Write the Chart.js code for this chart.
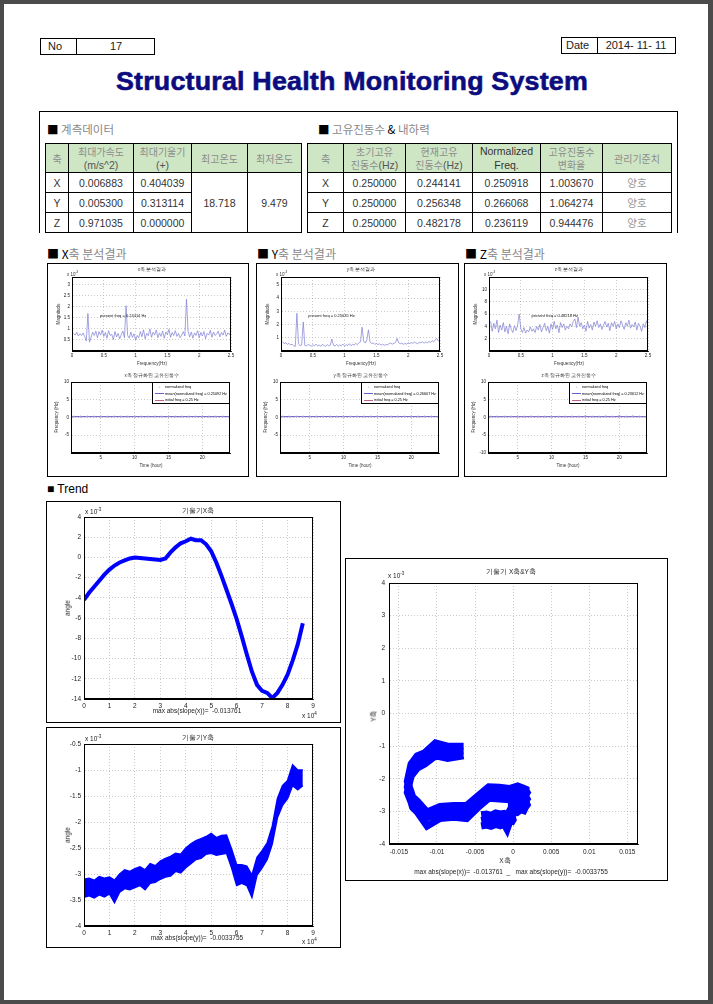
<!DOCTYPE html>
<html><head><meta charset="utf-8">
<script src="https://cdn.jsdelivr.net/npm/chart.js@4.4.1/dist/chart.umd.min.js"></script>
<style>
html,body{margin:0;padding:0;}
body{width:713px;height:1004px;background:#4b4b4b;position:relative;overflow:hidden;font-family:'Liberation Sans',Arial,sans-serif;}
#page{position:absolute;left:4px;top:4px;width:704px;height:996px;background:#fff;}
.abs{position:absolute;white-space:nowrap;line-height:1;}
.kr{font-family:'Noto Sans CJK KR','Liberation Sans',sans-serif;}
.box{position:absolute;border:1px solid #000;box-sizing:border-box;}
table.t{position:absolute;border-collapse:collapse;table-layout:fixed;font-size:10.5px;color:#333;}
table.t td{border:1px solid #000;text-align:center;padding:0;overflow:hidden;white-space:nowrap;}
table.t tr.h td{background:#cfe6c5;color:#8c8c8c;font-size:10px;line-height:13px;font-family:'Noto Sans CJK KR','Liberation Sans',sans-serif;}
table.t tr.h td .en{font-family:'Liberation Sans',Arial,sans-serif;color:#555;font-size:10.5px;}
table.t tr.d td{height:19px;}
.sec{position:absolute;font-size:11.5px;color:#888;white-space:nowrap;line-height:1;transform:translateY(-50%);}
.sec b{color:#000;font-weight:normal;}
canvas{position:absolute;}
.leg{position:absolute;border:0.6px solid #000;background:#fff;box-sizing:border-box;font-size:3.8px;line-height:6.5px;padding:1px 1px;white-space:nowrap;overflow:hidden;}
</style>
</head><body>
<div id="page"></div>

<!-- header boxes -->
<div class="box" style="left:40px;top:38px;width:115px;height:17px;"></div>
<div class="abs" style="left:76px;top:38px;width:1px;height:17px;background:#000;"></div>
<div class="abs" style="left:48px;top:41px;font-size:11px;color:#222;">No</div>
<div class="abs" style="left:116px;top:41px;font-size:11px;color:#222;transform:translateX(-50%);">17</div>
<div class="box" style="left:561px;top:37px;width:115px;height:17px;"></div>
<div class="abs" style="left:597px;top:37px;width:1px;height:17px;background:#000;"></div>
<div class="abs" style="left:566px;top:40px;font-size:11px;color:#222;">Date</div>
<div class="abs" style="left:636px;top:40px;font-size:11px;color:#222;transform:translateX(-50%);">2014- 11- 11</div>

<div id="title" class="abs" style="left:116px;top:68px;font-size:26px;font-weight:bold;color:#0c0c7e;transform-origin:0 0;letter-spacing:0.2px;-webkit-text-stroke:0.6px #0c0c7e;">Structural Health Monitoring System</div>

<!-- top box -->
<div class="abs" style="left:39px;top:111px;width:639px;height:1px;background:#000;"></div>
<div class="abs" style="left:39px;top:111px;width:1px;height:122px;background:#000;"></div>
<div class="abs" style="left:677px;top:111px;width:1px;height:122px;background:#000;"></div>

<div class="sec kr" style="left:47px;top:130px;"><b>■</b> 계측데이터</div>
<div class="sec kr" style="left:318px;top:130px;"><b>■</b> 고유진동수 <b>&amp;</b> 내하력</div>

<table class="t" id="tblA" style="left:45px;top:143px;width:256px;">
<colgroup><col style="width:23px"><col style="width:65px"><col style="width:58px"><col style="width:56px"><col style="width:54px"></colgroup>
<tr class="h" style="height:29px;"><td>축</td><td>최대가속도<br><span class="en">(m/s^2)</span></td><td>최대기울기<br><span class="en">(+)</span></td><td>최고온도</td><td>최저온도</td></tr>
</table>
<table class="t" id="tblB" style="left:307px;top:143px;width:364px;">
<colgroup><col style="width:36px"><col style="width:62px"><col style="width:67px"><col style="width:68px"><col style="width:62px"><col style="width:69px"></colgroup>
<tr class="h" style="height:29px;"><td>축</td><td>초기고유<br>진동수<span class="en">(Hz)</span></td><td>현재고유<br>진동수<span class="en">(Hz)</span></td><td><span class="en" style="color:#333">Normalized<br>Freq.</span></td><td>고유진동수<br>변화율</td><td>관리기준치</td></tr>
</table>

<div class="sec kr" style="left:47px;top:254px;font-size:12px;"><b>■ X</b>축 분석결과</div>
<div class="sec kr" style="left:257px;top:254px;font-size:12px;"><b>■ Y</b>축 분석결과</div>
<div class="sec kr" style="left:465px;top:254px;font-size:12px;"><b>■ Z</b>축 분석결과</div>
<div class="sec" style="left:47px;top:489px;font-size:12px;color:#000;">■ Trend</div>

<div class="box" style="left:47px;top:263px;width:202px;height:214px;"></div>
<div class="box" style="left:256px;top:263px;width:203px;height:214px;"></div>
<div class="box" style="left:464px;top:263px;width:203px;height:214px;"></div>

<div class="box" style="left:46px;top:501px;width:295px;height:222px;"></div>
<div class="box" style="left:46px;top:727px;width:295px;height:221px;"></div>
<div class="box" style="left:345px;top:558px;width:323px;height:323px;"></div>

<script>
// ---------------- DATA ----------------
const axesNames = ['X', 'Y', 'Z'];
const maxAccel = ['0.006883', '0.005300', '0.971035'];
const maxTilt = ['0.404039', '0.313114', '0.000000'];
const maxTemp = '18.718';
const minTemp = '9.479';
const initNatFreq = ['0.250000', '0.250000', '0.250000'];
const curNatFreq = ['0.244141', '0.256348', '0.482178'];
const normFreqTbl = ['0.250918', '0.266068', '0.236119'];
const changeRate = ['1.003670', '1.064274', '0.944476'];
const status = ['양호', '양호', '양호'];

const freq = [0.025,0.05,0.075,0.1,0.125,0.15,0.175,0.2,0.225,0.25,
  0.275,0.3,0.325,0.35,0.375,0.4,0.425,0.45,0.475,0.5,
  0.525,0.55,0.575,0.6,0.625,0.65,0.675,0.7,0.725,0.75,
  0.775,0.8,0.825,0.85,0.875,0.9,0.925,0.95,0.975,1.0,
  1.025,1.05,1.075,1.1,1.125,1.15,1.175,1.2,1.225,1.25,
  1.275,1.3,1.325,1.35,1.375,1.4,1.425,1.45,1.475,1.5,
  1.525,1.55,1.575,1.6,1.625,1.65,1.675,1.7,1.725,1.75,
  1.775,1.8,1.825,1.85,1.875,1.9,1.925,1.95,1.975,2.0,
  2.025,2.05,2.075,2.1,2.125,2.15,2.175,2.2,2.225,2.25,
  2.275,2.3,2.325,2.35,2.375,2.4,2.425,2.45,2.475,2.5];
const specX = [0.80,0.72,0.85,0.68,0.78,0.70,0.82,0.65,0.45,1.70,
  0.40,0.62,0.85,0.70,0.90,0.60,0.88,0.72,0.95,0.66,
  0.84,0.58,0.92,0.70,0.76,0.52,0.88,0.64,0.80,0.55,
  0.74,0.90,0.60,2.05,0.70,0.58,0.86,0.62,0.78,0.50,
  0.70,0.60,0.88,0.65,0.96,0.55,0.80,0.70,1.00,0.62,
  0.85,0.72,0.95,0.60,0.82,0.66,0.90,0.58,0.86,0.74,
  0.98,0.62,0.84,0.70,0.92,0.66,0.80,0.60,0.72,0.88,
  0.68,2.35,0.90,0.64,0.86,0.58,0.82,0.70,0.92,0.60,
  0.84,0.68,0.88,0.56,0.80,0.72,0.94,0.62,0.86,0.70,
  0.78,0.90,0.64,0.84,0.72,0.95,0.66,0.82,0.74,0.88];
const specY = [0.70,0.55,0.62,0.50,0.58,0.45,0.52,0.40,0.35,2.85,
  0.55,0.40,0.45,2.20,0.42,0.38,0.50,0.44,0.36,0.48,
  0.40,0.52,0.38,0.46,0.34,0.50,0.42,0.36,0.48,0.40,
  0.45,0.90,0.42,0.38,0.50,0.36,0.46,0.40,0.52,0.38,
  0.48,0.42,0.55,0.40,0.50,0.45,0.58,0.48,0.62,0.70,
  1.80,0.75,0.60,0.85,1.60,0.70,0.55,0.62,0.50,0.58,
  0.48,0.55,0.45,0.52,0.42,0.50,0.46,0.55,0.60,0.52,
  0.58,0.65,0.95,0.62,0.55,0.60,0.50,0.58,0.52,0.62,
  0.56,0.64,0.58,0.68,0.60,0.55,0.66,0.62,0.70,0.58,
  0.68,0.62,0.72,0.65,0.78,0.70,0.85,0.95,0.75,0.80];
const specZ = [4.8,3.2,4.5,3.6,5.0,3.0,4.2,3.4,4.6,3.1,
  4.0,2.8,4.4,3.5,3.0,4.1,3.3,4.2,6.0,3.6,
  3.0,3.8,2.9,3.4,3.1,3.9,3.2,3.6,3.0,4.0,
  3.4,4.3,3.1,3.8,4.5,3.3,4.0,2.9,4.4,3.5,
  4.8,3.6,4.2,3.0,4.6,3.8,4.4,3.4,4.0,3.6,
  4.4,3.9,4.8,5.2,3.8,5.5,4.0,4.6,3.6,4.2,
  3.2,4.8,3.7,4.3,3.4,4.7,4.0,4.9,3.8,4.4,
  3.5,4.2,4.8,3.9,4.5,3.3,4.6,4.0,4.8,3.6,
  4.4,3.8,4.9,4.2,3.5,4.6,4.0,5.0,3.7,4.3,
  3.9,4.7,3.4,4.5,4.0,3.2,4.4,3.8,4.9,4.2];
const presentFreq = ['0.24414', '0.25635', '0.48218'];

const hours = [1,2,3,4,5,6,7,8,9,10,11,12,13,14,15,16,17,18,19,20,21,22,23,24];
const normX = [0.25,0.24,0.26,0.25,0.25,0.24,0.26,0.25,0.25,0.26,0.24,0.25,0.25,0.26,0.25,0.24,0.25,0.26,0.25,0.25,0.24,0.26,0.25,0.25];
const normY = [0.27,0.26,0.27,0.26,0.27,0.27,0.26,0.27,0.26,0.27,0.26,0.27,0.27,0.26,0.27,0.26,0.27,0.27,0.26,0.27,0.26,0.27,0.26,0.27];
const normZ = [0.24,0.23,0.25,0.24,0.23,0.24,0.30,0.23,0.24,0.25,0.23,0.24,0.28,0.24,0.40,0.23,0.24,0.35,0.24,0.45,0.24,0.38,0.23,0.24];
const meanFreq = [0.25092, 0.26607, 0.23612];
const initFreq = 0.25;

const trendTime = [0,0.2,0.4,0.6,0.8,1.0,1.2,1.4,1.6,1.8,2.0,2.2,2.4,2.6,2.8,3.0,3.2,3.4,3.6,3.8,4.0,4.2,
  4.4,4.6,4.8,5.0,5.2,5.4,5.6,5.8,6.0,6.2,6.4,6.6,6.8,7.0,7.2,7.4,7.6,7.8,8.0,8.2,8.4,8.6];
const angleX = [-4.2,-3.5,-2.9,-2.3,-1.7,-1.2,-0.8,-0.5,-0.3,-0.1,0.0,-0.05,-0.1,-0.15,-0.2,-0.25,-0.1,0.5,1.0,1.4,1.6,1.85,
  1.7,1.7,1.3,0.6,-0.5,-1.8,-3.2,-4.6,-6.1,-7.8,-9.6,-11.3,-12.6,-13.2,-13.4,-13.9,-13.4,-12.6,-11.6,-10.2,-8.6,-6.5];
const angleYHigh = [-3.10,-3.08,-3.12,-3.05,-3.08,-3.06,-3.12,-3.00,-2.92,-2.95,-2.90,-2.86,-2.92,-2.80,-2.84,-2.75,-2.70,-2.66,-2.60,-2.62,-2.50,-2.42,
  -2.36,-2.32,-2.28,-2.22,-2.30,-2.26,-2.25,-2.52,-2.82,-2.82,-2.85,-3.02,-2.68,-2.55,-2.40,-2.08,-1.55,-1.30,-1.20,-0.90,-1.00,-1.00];
const angleYMid = [-3.28,-3.25,-3.28,-3.22,-3.27,-3.22,-3.30,-3.18,-3.10,-3.12,-3.08,-3.05,-3.08,-2.98,-3.00,-2.92,-2.88,-2.85,-2.78,-2.80,-2.70,-2.62,
  -2.55,-2.52,-2.45,-2.42,-2.48,-2.45,-2.42,-2.70,-3.00,-3.00,-3.05,-3.20,-2.85,-2.70,-2.55,-2.25,-1.75,-1.50,-1.38,-1.12,-1.18,-1.15];
const angleYLow = [-3.45,-3.42,-3.46,-3.40,-3.44,-3.38,-3.55,-3.35,-3.28,-3.30,-3.26,-3.22,-3.30,-3.18,-3.16,-3.10,-3.06,-3.04,-2.95,-2.98,-2.88,-2.80,
  -2.72,-2.70,-2.62,-2.60,-2.64,-2.62,-2.60,-2.88,-3.22,-3.18,-3.22,-3.45,-3.02,-2.88,-2.72,-2.42,-1.92,-1.68,-1.55,-1.30,-1.38,-1.30];
const slopeX = '-0.013761', slopeY = '-0.0033755';

// ---------------- TABLES ----------------
(function(){
  const A = document.getElementById('tblA');
  axesNames.forEach((n,i)=>{
    const tr = document.createElement('tr'); tr.className='d';
    let h = `<td>${n}</td><td>${maxAccel[i]}</td><td>${maxTilt[i]}</td>`;
    if(i===0) h += `<td rowspan="3">${maxTemp}</td><td rowspan="3">${minTemp}</td>`;
    tr.innerHTML = h; A.appendChild(tr);
  });
  const B = document.getElementById('tblB');
  axesNames.forEach((n,i)=>{
    const tr = document.createElement('tr'); tr.className='d';
    tr.innerHTML = `<td>${n}</td><td>${initNatFreq[i]}</td><td>${curNatFreq[i]}</td><td>${normFreqTbl[i]}</td><td>${changeRate[i]}</td><td class="kr" style="color:#999">${status[i]}</td>`;
    B.appendChild(tr);
  });
})();

// title fit
(function(){
  const t = document.getElementById('title');
  const w = t.getBoundingClientRect().width;
  t.style.transform = 'scaleX(' + (472 / w) + ')';
})();

// ---------------- HELPERS ----------------
function T(x, y, html, css, anchor, rot){
  const d = document.createElement('div');
  d.className = 'abs';
  d.innerHTML = html;
  d.style.cssText += 'left:' + x + 'px;top:' + y + 'px;' + (css || '');
  let tf = anchor === 'c' ? 'translate(-50%,-50%)' : anchor === 'r' ? 'translate(-100%,-50%)' : 'translateY(-50%)';
  if (rot) tf += ' rotate(-90deg)';
  d.style.transform = tf;
  document.body.appendChild(d);
}

const FONT = "'Liberation Sans', Arial, sans-serif";
const boxPlugin = {id:'box', afterDraw(c){
  const a = c.chartArea, ctx = c.ctx;
  ctx.save(); ctx.strokeStyle = '#000'; ctx.lineWidth = 1;
  ctx.strokeRect(Math.round(a.left)+0.5, Math.round(a.top)+0.5, Math.round(a.right-a.left)-1, Math.round(a.bottom-a.top)-1);
  ctx.restore();
}};
const annotPlugin = {id:'annot', afterDatasetsDraw(c, args, opts){
  const ctx = c.ctx;
  (opts.items || []).forEach(it => {
    const x = c.scales.x.getPixelForValue(it.x), y = c.scales.y.getPixelForValue(it.y);
    ctx.save(); ctx.font = it.font; ctx.fillStyle = it.color || '#000'; ctx.textBaseline = 'middle';
    ctx.fillText(it.text, x, y); ctx.restore();
  });
}};
const hlinePlugin = {id:'hline', beforeDatasetsDraw(c, args, opts){
  const ctx = c.ctx, a = c.chartArea;
  (opts.lines || []).forEach(l => {
    const y = c.scales.y.getPixelForValue(l.value);
    ctx.save(); ctx.strokeStyle = l.color; ctx.lineWidth = l.width || 1;
    ctx.beginPath(); ctx.moveTo(a.left, y); ctx.lineTo(a.right, y); ctx.stroke(); ctx.restore();
  });
}};

function makeChart(canvasBox, area, datasets, sc, extraPlugins){
  const cv = document.createElement('canvas');
  cv.width = canvasBox.w; cv.height = canvasBox.h;
  cv.style.left = canvasBox.x + 'px'; cv.style.top = canvasBox.y + 'px';
  cv.style.width = canvasBox.w + 'px'; cv.style.height = canvasBox.h + 'px';
  document.body.appendChild(cv);
  const yW = area.l - canvasBox.x, padTop = area.t - canvasBox.y;
  const padRight = canvasBox.x + canvasBox.w - area.r, xH = canvasBox.y + canvasBox.h - area.b;
  const gridC = sc.gridColor || '#b5b5b5';
  const mkAxis = (min, max, ticks, fmt, isX) => ({
    type: 'linear', min: min, max: max,
    afterBuildTicks: s => { s.ticks = ticks.map(v => ({value: v})); },
    afterFit: s => { if (isX) s.height = xH; else s.width = yW; },
    ticks: {font: {size: sc.font, family: FONT}, color: '#222', padding: sc.tickPad || 2, maxRotation: 0, autoSkip: false,
      callback: fmt},
    grid: {color: gridC, lineWidth: 0.7, drawTicks: false},
    border: {display: true, color: '#000', width: 1, dash: [1, 2]}
  });
  return new Chart(cv, {
    type: 'scatter',
    data: {datasets: datasets},
    options: {
      responsive: false, animation: false, devicePixelRatio: 1,
      layout: {padding: {left: 0, top: padTop, right: padRight, bottom: 0}},
      plugins: Object.assign({legend: {display: false}, tooltip: {enabled: false}}, sc.plugins || {}),
      scales: {
        x: mkAxis(sc.xmin, sc.xmax, sc.xticks, sc.xfmt, true),
        y: mkAxis(sc.ymin, sc.ymax, sc.yticks, sc.yfmt, false)
      }
    },
    plugins: [boxPlugin, annotPlugin, hlinePlugin].concat(extraPlugins || [])
  });
}
const num = v => String(+(+v).toFixed(4));

// ---------------- SMALL PANELS ----------------
const panels = [
  {L: 47, lc: 'x', spec: specX, ymax: 3.35, yticks: [0.5,1,1.5,2,2.5,3], pf: presentFreq[0], pos: [0.44, 1.58], norm: normX, mean: meanFreq[0], hideMin: true},
  {L: 256, lc: 'y', spec: specY, ymax: 5.6, yticks: [1,2,3,4,5], pf: presentFreq[1], pos: [0.43, 2.65], norm: normY, mean: meanFreq[1], hideMin: true},
  {L: 464, lc: 'z', spec: specZ, ymax: 12, yticks: [2,4,6,8,10], pf: presentFreq[2], pos: [0.67, 5.7], norm: normZ, mean: meanFreq[2], hideMin: false}
];
const tiny = 'font-size:4.5px;color:#333;';
panels.forEach((p, k) => {
  const L = p.L;
  makeChart({x: L+1, y: 264, w: 200, h: 98}, {l: L+25, t: 277, r: L+184, b: 351},
    [{data: freq.map((f, i) => ({x: f, y: p.spec[i]})), showLine: true, borderColor: '#7c7cd4', borderWidth: 0.7, pointRadius: 0}],
    {xmin: 0, xmax: 2.5, xticks: [0,0.5,1,1.5,2,2.5], ymin: 0, ymax: p.ymax, yticks: p.yticks, font: 4.5,
     xfmt: num, yfmt: num,
     plugins: {annot: {items: [{x: p.pos[0], y: p.pos[1], text: 'present freq = ' + p.pf + ' Hz', font: '4px ' + FONT, color: '#111'}]}}});
  T(L+105, 270, p.lc + '축 분석결과', tiny, 'c');
  T(L+20, 274, 'x 10<sup style="font-size:3px">-3</sup>', tiny, 'l');
  T(L+12, 314, 'Magnitude', tiny, 'c', true);
  T(L+105, 364, 'Frequency(Hz)', tiny, 'c');
  makeChart({x: L+1, y: 374, w: 200, h: 90}, {l: L+24, t: 382, r: L+183, b: 453},
    [{data: hours.map((h, i) => ({x: h, y: p.norm[i]})), pointStyle: 'cross', pointRadius: 1.3, borderWidth: 0.6, borderColor: '#a0a0e0', backgroundColor: '#a0a0e0'}],
    {xmin: 0.6, xmax: 24.1, xticks: [5,10,15,20], ymin: -10, ymax: 10, yticks: [-10,-5,0,5,10], font: 4.5,
     xfmt: num, yfmt: v => (p.hideMin && v === -10) ? '' : num(v),
     plugins: {hline: {lines: [{value: initFreq, color: '#c06090', width: 0.8}, {value: p.mean, color: '#6060d0', width: 0.8}]}}});
  T(L+105, 376, p.lc + '축 정규화된 고유진동수', tiny, 'c');
  T(L+10, 417, 'Frequency (Hz)', tiny, 'c', true);
  T(L+104, 466, 'Time (hour)', tiny, 'c');
  const lg = document.createElement('div');
  lg.className = 'leg';
  lg.style.left = (L+105) + 'px'; lg.style.top = '382px'; lg.style.width = '78px'; lg.style.height = '22px';
  lg.innerHTML = '<div><span style="display:inline-block;width:11px;color:#a0a0e0;text-align:center">+</span>normalized freq</div>' +
    '<div><span style="display:inline-block;width:9px;height:0;border-top:0.7px solid #6060d0;vertical-align:middle;margin:0 1px"></span>mean(normalized freq) = ' + p.mean.toFixed(5) + ' Hz</div>' +
    '<div><span style="display:inline-block;width:9px;height:0;border-top:0.7px solid #c06090;vertical-align:middle;margin:0 1px"></span>initial freq = ' + initFreq + ' Hz</div>';
  document.body.appendChild(lg);
});

// ---------------- TRENDS ----------------
const tf = 'font-size:6.5px;color:#222;';
makeChart({x: 47, y: 502, w: 293, h: 220}, {l: 84, t: 517, r: 313, b: 699},
  [{data: trendTime.map((t, i) => ({x: t, y: angleX[i]})), showLine: true, borderColor: '#0000ff', borderWidth: 4, pointRadius: 0, tension: 0}],
  {xmin: 0, xmax: 9, xticks: [0,1,2,3,4,5,6,7,8,9], ymin: -14, ymax: 4, yticks: [-14,-12,-10,-8,-6,-4,-2,0,2,4], font: 6.5, tickPad: 3,
   xfmt: num, yfmt: num});
T(198, 511, '기울기X축', tf, 'c');
T(85, 512, 'x 10<sup style="font-size:4.5px">-3</sup>', tf, 'l');
T(302, 716, 'x 10<sup style="font-size:4.5px">4</sup>', tf, 'l');
T(68, 608, 'angle', tf, 'c', true);
T(197, 711, 'max abs(slope(x))= &nbsp;' + slopeX, tf, 'c');

makeChart({x: 47, y: 728, w: 293, h: 219}, {l: 84, t: 744, r: 313, b: 926},
  [{data: trendTime.map((t, i) => ({x: t, y: angleYHigh[i]})), showLine: true, borderColor: '#0000ff', backgroundColor: '#0000ff', borderWidth: 1.5, pointRadius: 0, fill: '+1'},
   {data: trendTime.map((t, i) => ({x: t, y: angleYLow[i]})), showLine: true, borderColor: '#0000ff', borderWidth: 1.5, pointRadius: 0, fill: false}],
  {xmin: 0, xmax: 9, xticks: [0,1,2,3,4,5,6,7,8,9], ymin: -4, ymax: -0.5, yticks: [-4,-3.5,-3,-2.5,-2,-1.5,-1,-0.5], font: 6.5, tickPad: 3,
   xfmt: num, yfmt: num});
T(198, 738, '기울기Y축', tf, 'c');
T(85, 739, 'x 10<sup style="font-size:4.5px">-3</sup>', tf, 'l');
T(302, 942, 'x 10<sup style="font-size:4.5px">4</sup>', tf, 'l');
T(68, 835, 'angle', tf, 'c', true);
T(197, 938, 'max abs(slope(y))= &nbsp;' + slopeY, tf, 'c');

const xyLine = arr => ({data: trendTime.map((t, i) => ({x: angleX[i] / 1000, y: arr[i]})), showLine: true, borderColor: '#0000ff', borderWidth: 7, pointRadius: 0, fill: false});
makeChart({x: 346, y: 559, w: 321, h: 321}, {l: 389, t: 583, r: 638, b: 844},
  [xyLine(angleYHigh), xyLine(angleYMid), xyLine(angleYLow)],
  {xmin: -0.0163, xmax: 0.0164, xticks: [-0.015,-0.01,-0.005,0,0.005,0.01,0.015], ymin: -4, ymax: 4, yticks: [-4,-3,-2,-1,0,1,2,3,4], font: 6.5, tickPad: 4,
   xfmt: num, yfmt: num});
T(511, 572, '기울기 X축&amp;Y축', tf, 'c');
T(388, 576, 'x 10<sup style="font-size:4.5px">-3</sup>', tf, 'l');
T(374, 716, 'Y축', tf, 'c', true);
T(505, 861, 'X축', tf, 'c');
T(511, 872, 'max abs(slope(x))= &nbsp;' + slopeX + ' &nbsp;_ &nbsp; max abs(slope(y))= &nbsp;' + slopeY, tf, 'c');
</script>
</body></html>
